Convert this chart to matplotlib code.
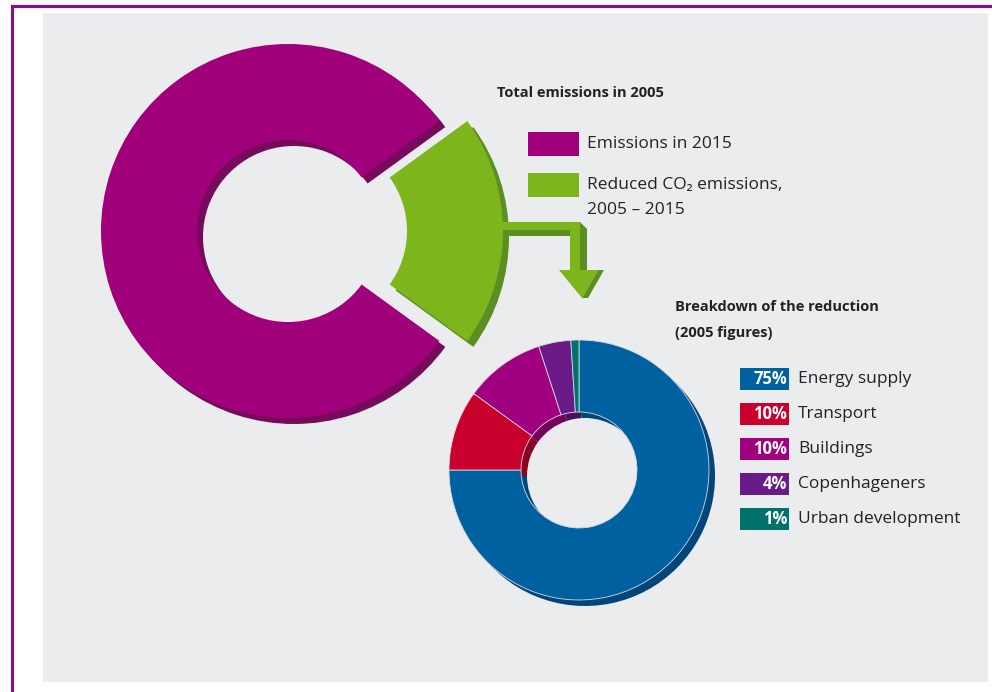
import matplotlib.pyplot as plt
from matplotlib.patches import Rectangle, Polygon

plt.rcParams['font.family'] = ['Open Sans', 'DejaVu Sans']

# data
total_labels = ["Emissions in 2015", "Reduced CO\u2082 emissions,\n2005 \u2013 2015"]
total_share = [80, 20]
total_colors = ["#A0007A", "#7DB61C"]
total_shadow = ["#760A5C", "#5C8E22"]

reduction_labels = ["Energy supply", "Transport", "Buildings", "Copenhageners", "Urban development"]
reduction_pct = [75, 10, 10, 4, 1]
reduction_colors = ["#0061A0", "#C9002B", "#A0007F", "#6A1B87", "#00716C"]
reduction_shadow = ["#00467A", "#8E0020", "#74005C", "#4A1060", "#00514E"]

W, H = 992, 692
BG = "#EBECEE"


def Y(y):
    return H - y


fig = plt.figure(figsize=(9.92, 6.92), dpi=100)
fig.patch.set_facecolor("white")
ax = fig.add_axes([0, 0, 1, 1])

# panel + frame
ax.add_patch(Rectangle((43, Y(682)), 945, 669, facecolor=BG, edgecolor="none", zorder=0))
ax.plot([12, W], [Y(6), Y(6)], color="#8E0A8C", lw=2.2, zorder=1)
ax.plot([12, 12], [Y(6), 0], color="#8E0A8C", lw=2.2, zorder=1)

# big ring: shadow then face (explode is in data units here)
big_c = (288, Y(231))
big_r = 187
big_w = 96
expl = [0, 28]
sh = 6
ax.pie(total_share, colors=total_shadow, startangle=36, radius=big_r,
       center=(big_c[0] + sh, big_c[1] - sh), explode=expl,
       wedgeprops=dict(width=big_w, linewidth=0), frame=True)
ax.pie(total_share, colors=total_colors, startangle=36, radius=big_r,
       center=big_c, explode=expl,
       wedgeprops=dict(width=big_w, linewidth=0), frame=True)

# arrow from the green wedge down to the breakdown
shaft = [(503, 222), (580, 222), (580, 270), (598, 270), (582, 298),
         (559, 270), (570, 270), (570, 230), (503, 230)]
shaft_sh = [(580, 222), (587, 229), (587, 270), (604, 270), (588, 298),
            (582, 298), (598, 270), (580, 270)]
low = [(505, 230), (570, 230), (570, 236), (505, 236)]
ax.add_patch(Polygon([(x, Y(y)) for x, y in low], closed=True,
                     facecolor="#5C8E22", edgecolor="none", zorder=3))
ax.add_patch(Polygon([(x, Y(y)) for x, y in shaft_sh], closed=True,
                     facecolor="#5C8E22", edgecolor="none", zorder=3))
ax.add_patch(Polygon([(x, Y(y)) for x, y in shaft], closed=True,
                     facecolor="#7DB61C", edgecolor="none", zorder=4))

# breakdown donut
sm_c = (579, Y(470))
sm_r = 130
sm_w = 72
ss = 6
ax.pie(reduction_pct, colors=reduction_shadow, startangle=90, counterclock=False,
       radius=sm_r, center=(sm_c[0] + ss, sm_c[1] - ss),
       wedgeprops=dict(width=sm_w, linewidth=0), frame=True)
ax.pie(reduction_pct, colors=reduction_colors, startangle=90, counterclock=False,
       radius=sm_r, center=sm_c,
       wedgeprops=dict(width=sm_w, linewidth=0.6, edgecolor="#d8d8e0"), frame=True)

# legend for the big ring
ax.text(497, Y(93), "Total emissions in 2005", fontsize=10.5, fontweight="bold",
        color="#222222", va="center", ha="left")
box_y = [144, 185]
for lab, col, by in zip(total_labels, total_colors, box_y):
    ax.add_patch(Rectangle((528, Y(by + 12)), 51, 24, facecolor=col, edgecolor="none", zorder=5))
    for k, line in enumerate(lab.split("\n")):
        ax.text(587, Y(by + 25 * k), line, fontsize=12.5, color="#222222",
                va="center", ha="left")

# legend for the breakdown
ax.text(675, Y(307), "Breakdown of the reduction", fontsize=10.5, fontweight="bold",
        color="#222222", va="center", ha="left")
ax.text(675, Y(333), "(2005 figures)", fontsize=10.5, fontweight="bold",
        color="#222222", va="center", ha="left")
for i, (lab, pct, col) in enumerate(zip(reduction_labels, reduction_pct, reduction_colors)):
    cy = 379 + i * 35
    ax.add_patch(Rectangle((740, Y(cy + 11)), 49, 22, facecolor=col, edgecolor="none", zorder=5))
    ax.text(787, Y(cy), f"{pct}%", fontsize=12, color="white", va="center", ha="right",
            fontweight="bold", zorder=6)
    ax.text(798, Y(cy), lab, fontsize=12.5, color="#222222", va="center", ha="left")

ax.set_xlim(0, W)
ax.set_ylim(0, H)
ax.set_aspect("equal")
ax.axis("off")

fig.savefig("out.png", dpi=100, facecolor=fig.get_facecolor())
